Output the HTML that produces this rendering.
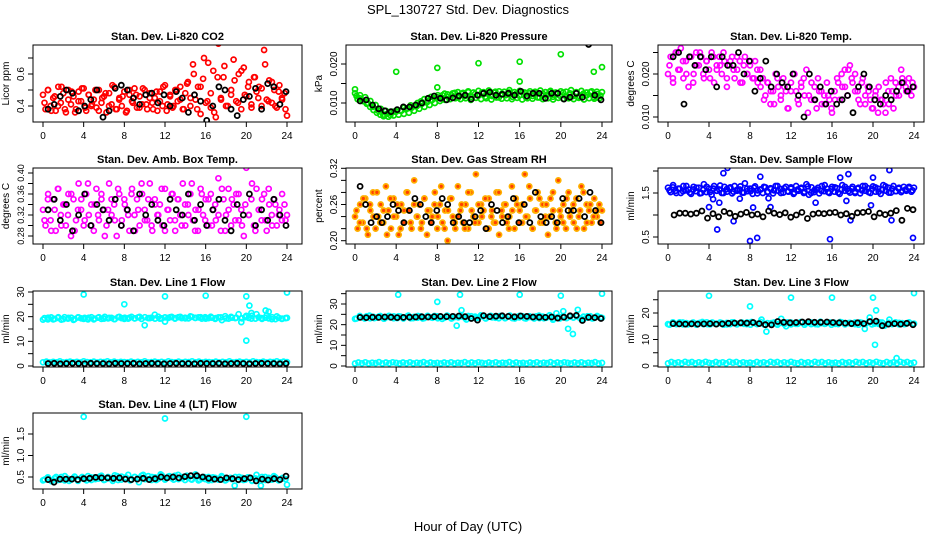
<!DOCTYPE html>
<html><head><meta charset="utf-8"><style>
html,body{margin:0;padding:0;background:#fff;}
svg{display:block;font-family:"Liberation Sans",Arial,sans-serif;}
</style></head><body>
<svg id="chart" width="936" height="540" viewBox="0 0 936 540">
<text x="468" y="14" text-anchor="middle" font-size="13">SPL_130727  Std. Dev. Diagnostics</text>
<text x="468" y="531" text-anchor="middle" font-size="13">Hour of Day (UTC)</text>
</svg>
<script>
// ---- data ----
const xTicks = [0,4,8,12,16,20,24];
const co2Red = [0.47,0.38,0.50,0.40,0.45,0.37,0.52,0.42,0.48,0.36,0.50,0.41,0.46,0.38,0.49,0.43,0.51,0.37,0.47,0.40,0.44,0.39,0.50,0.42,0.46,0.36,0.48,0.41,0.52,0.38,0.45,0.40,0.49,0.37,0.47,0.43,0.51,0.39,0.46,0.41,0.50,0.38,0.48,0.42,0.45,0.37,0.49,0.40,0.53,0.41,0.47,0.39,0.50,0.43,0.52,0.38,0.48,0.55,0.40,0.66,0.44,0.52,0.35,0.57,0.42,0.67,0.39,0.62,0.33,0.79,0.45,0.58,0.40,0.80,0.47,0.69,0.43,0.60,0.38,0.64,0.46,0.55,0.41,0.58,0.49,0.52,0.40,0.75,0.44,0.56,0.42,0.50,0.39,0.53,0.45,0.48,0.34];
const co2Red2 = [0.42,0.50,0.37,0.46,0.40,0.52,0.38,0.44,0.49,0.36,0.43,0.51,0.39,0.47,0.41,0.50,0.37,0.45,0.48,0.40,0.53,0.38,0.44,0.46,0.36,0.50,0.42,0.47,0.39,0.51,0.41,0.45,0.38,0.49,0.43,0.52,0.37,0.46,0.40,0.50,0.44,0.38,0.54,0.45,0.60,0.38,0.52,0.70,0.43,0.48,0.36,0.58,0.44,0.65,0.40,0.50,0.56,0.42,0.62,0.47,0.52,0.39,0.58,0.45,0.51,0.66,0.43,0.55,0.40,0.49,0.44,0.38];
const co2Black = [0.38,0.41,0.46,0.50,0.48,0.37,0.40,0.44,0.50,0.33,0.37,0.51,0.53,0.50,0.45,0.41,0.47,0.48,0.42,0.47,0.40,0.49,0.45,0.36,0.47,0.43,0.31,0.40,0.52,0.50,0.38,0.34,0.44,0.46,0.51,0.38,0.54,0.52,0.41,0.49];
const presGreen = [0.0125,0.0110,0.0120,0.0105,0.0115,0.0100,0.0105,0.0090,0.0095,0.0080,0.0085,0.0070,0.0080,0.0065,0.0075,0.0068,0.0078,0.0070,0.0080,0.0072,0.0085,0.0075,0.0088,0.0080,0.0092,0.0085,0.0098,0.0090,0.0102,0.0095,0.0108,0.0100,0.0115,0.0105,0.0120,0.0108,0.0122,0.0110,0.0125,0.0112,0.0128,0.0110,0.0126,0.0112,0.0130,0.0108,0.0127,0.0113,0.0131,0.0110,0.0128,0.0112,0.0132,0.0109,0.0127,0.0114,0.0130,0.0111,0.0129,0.0112,0.0133,0.0110,0.0128,0.0113,0.0131,0.0109,0.0127,0.0112,0.0130,0.0111,0.0129,0.0114,0.0132,0.0110,0.0128,0.0112,0.0131,0.0109,0.0127,0.0113,0.0130,0.0111,0.0129,0.0112,0.0133,0.0110,0.0128,0.0113,0.0131,0.0109,0.0127,0.0112,0.0130,0.0111,0.0129,0.0112,0.0128];
const presGreen2 = [0.0118,0.0112,0.0105,0.0098,0.0090,0.0082,0.0075,0.0070,0.0066,0.0072,0.0069,0.0078,0.0082,0.0080,0.0088,0.0086,0.0094,0.0092,0.0100,0.0104,0.0110,0.0106,0.0116,0.0112,0.0120,0.0114,0.0124,0.0116,0.0120,0.0126,0.0114,0.0124,0.0118,0.0128,0.0115,0.0123,0.0119,0.0127,0.0116,0.0125,0.0118,0.0129,0.0114,0.0124,0.0120,0.0127,0.0116,0.0123,0.0119,0.0128,0.0115,0.0125,0.0118,0.0126,0.0114,0.0124,0.0120,0.0129,0.0116,0.0123,0.0119,0.0127,0.0115,0.0125,0.0118,0.0126,0.0116,0.0124,0.0120,0.0128,0.0115,0.0123,0.0119];
const presOutH = [0,4,8,8,12,16,16,20,23.2,24];
const presOutV = [0.0135,0.0180,0.0190,0.0140,0.0202,0.0206,0.0155,0.0225,0.0180,0.0192];
const presBlack = [0.0105,0.0108,0.0095,0.0085,0.0080,0.0078,0.0083,0.0090,0.0090,0.0095,0.0100,0.0112,0.0118,0.0112,0.0108,0.0113,0.0118,0.0120,0.0110,0.0120,0.0125,0.0128,0.0120,0.0122,0.0125,0.0120,0.0130,0.0118,0.0125,0.0125,0.0112,0.0125,0.0125,0.0110,0.0115,0.0125,0.0115,0.0250,0.0120,0.0108];
const tempMag = [0.020,0.024,0.018,0.025,0.021,0.026,0.019,0.023,0.017,0.024,0.020,0.025,0.022,0.024,0.019,0.023,0.021,0.025,0.018,0.022,0.024,0.020,0.023,0.017,0.022,0.024,0.019,0.021,0.023,0.018,0.024,0.020,0.022,0.019,0.023,0.018,0.021,0.019,0.015,0.018,0.013,0.016,0.020,0.017,0.014,0.019,0.016,0.012,0.018,0.020,0.016,0.013,0.017,0.019,0.021,0.015,0.018,0.014,0.012,0.016,0.013,0.015,0.018,0.014,0.011,0.016,0.019,0.014,0.017,0.021,0.015,0.022,0.018,0.020,0.016,0.013,0.019,0.015,0.017,0.014,0.012,0.016,0.011,0.014,0.013,0.018,0.016,0.019,0.012,0.015,0.017,0.021,0.018,0.016,0.019,0.015,0.017];
const tempMag2 = [0.022,0.019,0.025,0.021,0.023,0.020,0.024,0.018,0.022,0.025,0.020,0.023,0.019,0.024,0.021,0.022,0.025,0.019,0.023,0.021,0.024,0.018,0.022,0.020,0.023,0.019,0.021,0.017,0.014,0.018,0.016,0.013,0.019,0.015,0.017,0.012,0.016,0.020,0.014,0.018,0.015,0.011,0.014,0.017,0.019,0.016,0.013,0.015,0.012,0.014,0.018,0.020,0.017,0.021,0.019,0.016,0.014,0.018,0.013,0.016,0.012,0.015,0.017,0.014,0.011,0.013,0.016,0.018,0.015,0.019,0.017,0.016,0.018];
const tempBlack = [0.024,0.025,0.013,0.024,0.022,0.024,0.021,0.024,0.017,0.024,0.022,0.022,0.025,0.020,0.023,0.016,0.019,0.023,0.017,0.020,0.018,0.017,0.020,0.015,0.010,0.020,0.014,0.017,0.013,0.016,0.013,0.014,0.015,0.011,0.017,0.020,0.017,0.014,0.013,0.015,0.014,0.016,0.018,0.016,0.017];
const ambMag = [0.33,0.30,0.36,0.31,0.35,0.29,0.37,0.32,0.34,0.30,0.36,0.28,0.35,0.31,0.38,0.33,0.30,0.36,0.32,0.34,0.29,0.37,0.31,0.35,0.33,0.30,0.38,0.32,0.34,0.28,0.36,0.31,0.35,0.33,0.29,0.37,0.32,0.35,0.30,0.36,0.33,0.31,0.38,0.29,0.35,0.32,0.34,0.30,0.37,0.33,0.31,0.36,0.29,0.35,0.32,0.38,0.30,0.34,0.36,0.31,0.33,0.29,0.37,0.32,0.35,0.30,0.36,0.33,0.31,0.39,0.29,0.35,0.32,0.37,0.30,0.34,0.36,0.31,0.33,0.28,0.41,0.32,0.35,0.30,0.37,0.33,0.31,0.36,0.29,0.34,0.32,0.35,0.30,0.33,0.31,0.34,0.32];
const ambMag2 = [0.31,0.35,0.29,0.33,0.37,0.30,0.34,0.32,0.36,0.29,0.33,0.35,0.31,0.38,0.30,0.34,0.32,0.36,0.28,0.33,0.35,0.31,0.37,0.30,0.34,0.32,0.36,0.29,0.33,0.38,0.31,0.35,0.30,0.34,0.32,0.37,0.29,0.33,0.36,0.31,0.35,0.30,0.34,0.32,0.38,0.29,0.33,0.36,0.31,0.35,0.30,0.34,0.32,0.37,0.29,0.33,0.35,0.31,0.36,0.30,0.34,0.32,0.38,0.29,0.33,0.35,0.31,0.37,0.30,0.34,0.32,0.36,0.31];
const ambBlack = [0.33,0.35,0.31,0.34,0.29,0.32,0.36,0.30,0.34,0.33,0.31,0.35,0.30,0.33,0.29,0.36,0.32,0.34,0.31,0.30,0.35,0.33,0.32,0.36,0.31,0.34,0.30,0.33,0.35,0.31,0.29,0.34,0.32,0.36,0.30,0.33,0.31,0.35,0.32,0.30];
const rhOrange = [0.24,0.22,0.26,0.23,0.27,0.21,0.25,0.28,0.22,0.24,0.26,0.23,0.29,0.25,0.22,0.27,0.24,0.21,0.26,0.23,0.28,0.25,0.22,0.30,0.24,0.26,0.23,0.27,0.21,0.25,0.24,0.28,0.22,0.26,0.23,0.25,0.20,0.27,0.24,0.22,0.29,0.25,0.23,0.26,0.22,0.28,0.24,0.31,0.23,0.26,0.25,0.22,0.27,0.24,0.23,0.28,0.21,0.25,0.26,0.23,0.24,0.29,0.22,0.26,0.25,0.23,0.31,0.24,0.27,0.22,0.25,0.28,0.23,0.26,0.24,0.21,0.27,0.25,0.23,0.30,0.24,0.26,0.22,0.28,0.25,0.23,0.27,0.24,0.29,0.22,0.26,0.25,0.23,0.27,0.24,0.26,0.25];
const rhOrange2 = [0.25,0.23,0.27,0.22,0.26,0.24,0.28,0.23,0.25,0.21,0.27,0.24,0.26,0.22,0.25,0.28,0.23,0.26,0.24,0.22,0.27,0.25,0.23,0.26,0.24,0.29,0.22,0.25,0.27,0.23,0.24,0.26,0.22,0.28,0.25,0.23,0.26,0.24,0.27,0.22,0.25,0.23,0.28,0.24,0.26,0.22,0.25,0.27,0.23,0.26,0.24,0.29,0.22,0.25,0.27,0.23,0.26,0.24,0.28,0.22,0.25,0.23,0.27,0.24,0.26,0.22,0.25,0.28,0.23,0.26,0.24,0.25,0.23];
const rhBlack = [0.29,0.26,0.23,0.24,0.23,0.24,0.26,0.25,0.23,0.25,0.27,0.26,0.24,0.23,0.25,0.27,0.26,0.23,0.24,0.23,0.23,0.24,0.25,0.22,0.26,0.25,0.23,0.24,0.27,0.23,0.26,0.23,0.28,0.24,0.23,0.24,0.23,0.27,0.25,0.25,0.27,0.24,0.28,0.25,0.23];
const flowBlue = [1.62,1.52,1.68,1.55,1.60,1.50,1.66,1.56,1.58,1.48,1.64,1.54,1.62,1.50,1.70,1.52,1.60,1.46,1.66,1.55,1.58,1.50,1.64,1.53,1.61,1.49,1.66,1.55,1.58,1.51,1.72,1.54,1.60,1.48,1.65,1.56,1.58,1.50,1.63,1.53,1.61,1.49,1.66,1.55,1.59,1.51,1.64,1.53,1.60,1.48,1.66,1.55,1.62,1.50,1.70,1.46,1.63,1.52,1.58,1.49,1.66,1.54,1.60,1.50,1.64,1.53,1.61,1.48,1.68,1.55,1.59,1.51,1.64,1.53,1.60,1.49,1.66,1.55,1.61,1.50,1.65,1.53,1.60,1.48,1.68,1.55,1.62,1.51,1.66,1.54,1.60,1.52,1.64,1.55,1.61,1.53,1.62];
const flowBlue2 = [1.56,1.63,1.50,1.60,1.54,1.66,1.51,1.58,1.62,1.49,1.57,1.64,1.52,1.60,1.55,1.67,1.50,1.59,1.63,1.53,1.57,1.65,1.51,1.60,1.54,1.62,1.49,1.58,1.64,1.52,1.59,1.56,1.66,1.50,1.61,1.54,1.63,1.51,1.58,1.60,1.53,1.65,1.50,1.57,1.62,1.55,1.68,1.52,1.59,1.63,1.51,1.58,1.64,1.54,1.60,1.50,1.62,1.56,1.66,1.52,1.59,1.63,1.53,1.57,1.65,1.51,1.60,1.54,1.62,1.55,1.58,1.64,1.56];
const flowOutH = [4,4.4,4.8,5,5.4,5.8,6.4,7,8,8.3,8.7,9,9.8,10,14.4,15.8,16.8,17.4,17.6,17.8,19.8,20,21.6,21.8,23.9];
const flowOutV = [1.18,1.36,0.67,1.28,1.95,2.07,0.86,1.37,0.41,1.17,0.48,1.87,1.38,1.18,1.28,0.45,1.85,1.32,1.93,0.88,1.22,1.85,2.02,0.88,0.48];
const flowBlack = [1.00,1.04,1.04,1.02,1.04,1.09,0.93,1.03,0.96,1.08,1.04,0.97,1.02,1.06,1.00,1.02,0.96,1.09,1.04,1.01,1.05,0.95,1.00,1.06,0.92,1.02,1.04,1.03,1.05,1.06,1.00,1.03,0.97,1.05,1.06,1.08,0.96,1.04,1.01,1.04,1.10,0.88,1.15,1.12];
const l1Cyan = [18.8,19.6,18.9,19.8,19.0,19.5,18.7,19.7,19.1,19.6,18.9,19.8,19.2,19.5,19.0,19.9,19.1,19.6,19.3,19.9,16.5,19.4,20.8,19.2,18.0,19.8,19.4,19.9,19.3,20.1,19.5,19.8,19.2,20.0,19.4,19.7,19.3,19.9,19.6,17.8,20.3,19.2,21.0,19.4,20.5,19.0,20.1,19.1,19.5];
const l1Cyan2 = [19.4,18.9,19.7,19.1,19.5,18.8,19.8,19.2,19.6,19.0,19.7,19.3,19.5,18.9,19.8,19.2,19.6,19.1,19.9,19.3,19.5,19.0,19.8,19.4,19.6,19.2,19.9,19.3,19.7,19.1,19.8,19.4,19.6,19.2,20.0,19.3,19.7,19.5,19.9,19.2,19.8,19.4,19.6,19.3,19.9,19.5,19.7,19.2,19.8,19.4,19.6,19.1,19.7,18.6,20.2,19.2,19.6,19.4,21.0,19.3,19.8,19.5,20.4,19.2,19.7,19.1,19.6,19.3,19.8,19.0,19.5,19.2,19.4];
const l1Out = [29,25,28.2,28.5,28.2,10.3,24.5,21.5,22.5,22,29.8];
const l1OutH = [4,8,12,16,20,20,20.3,20.5,21.9,22.2,24];
const l1Low = [1.5,1.8,1.4,1.7,1.5,1.9,1.4,1.6,1.8,1.5,1.7,1.4,1.9,1.6,1.5,1.8,1.4,1.7,1.6,1.9,1.5,1.8,1.4,1.7,1.6,1.5,1.8,1.4,1.7,1.5,1.9,1.4,1.6,1.8,1.5,1.7,1.4,1.9,1.6,1.5,1.8,1.4,1.7,1.6,1.9,1.5,1.8,1.4,1.7,1.6,1.5,1.8,1.4,1.7,1.5,1.9,1.4,1.6,1.8,1.5,1.7,1.4,1.9,1.6,1.5,1.8,1.4,1.7,1.6,1.9,1.5,1.8,1.6];
const l1Black = [1.0,1.1,0.9,1.0,1.1,1.0,0.9,1.1,1.0,1.0,0.9,1.1,1.0,1.0,1.1,0.9,1.0,1.1,1.0,0.9,1.0,1.1,1.0,1.0,0.9,1.1,1.0,1.0,1.1,0.9,1.0,1.1,1.0,0.9,1.0,1.1,1.0,1.0,0.9,1.0];
const l2Cyan = [22.8,24.2,23.0,24.4,23.2,24.0,22.9,24.3,23.1,24.1,23.0,24.4,23.2,24.2,23.0,24.3,23.3,24.0,22.8,24.4,23.1,19.5,27.0,22.5,24.1,23.2,24.5,23.0,24.3,23.3,24.2,23.1,24.4,23.0,24.3,23.2,24.1,23.0,24.4,23.1,24.2,22.9,23.8,26.5,18.0,15.5,27.2,22.8,24.1,23.0,24.2,23.3];
const l2Cyan2 = [23.0,23.9,23.3,24.1,23.1,23.8,23.4,24.2,23.0,23.7,23.5,24.0,23.2,23.9,23.4,24.1,23.1,23.8,23.3,24.0,23.2,23.9,23.5,24.2,23.1,23.8,23.4,24.1,23.0,23.7,23.5,24.0,23.3,24.2,23.1,23.9,23.4,24.1,23.2,23.8,23.5,24.0,23.1,23.9,23.3,24.2,23.2,23.8,23.5,24.1,23.0,23.7,23.4,24.0,23.2,23.9,23.3,24.6,22.4,25.5,23.0,24.1,23.2,23.8,23.4,24.0,23.1,23.9,23.3,24.1,23.2,23.8,23.5];
const l2OutH = [4.2,8,10.2,16,20,24];
const l2Out = [34.5,31,34.5,34.5,34,35];
const l2Low = [1.2,1.7,1.3,1.8,1.2,1.6,1.4,1.9,1.2,1.7,1.3,1.8,1.5,1.2,1.7,1.3,1.8,1.2,1.6,1.4,1.9,1.2,1.7,1.3,1.5,1.2,1.7,1.3,1.8,1.2,1.6,1.4,1.9,1.2,1.7,1.3,1.8,1.5,1.2,1.7,1.3,1.8,1.2,1.6,1.4,1.9,1.2,1.7,1.3,1.5,1.2,1.7,1.3,1.8,1.2,1.6,1.4,1.9,1.2,1.7,1.3,1.8,1.5,1.2,1.7,1.3,1.8,1.2,1.6,1.4,1.9,1.2,1.5];
const l2Black = [23.5,23.4,23.6,23.5,23.7,23.6,23.4,23.5,23.6,23.7,23.8,23.7,23.9,24.0,23.9,24.0,24.2,23.9,23.0,22.2,24.4,23.9,24.1,24.3,24.0,23.8,24.2,24.0,23.7,23.6,23.5,23.7,23.2,23.6,24.3,24.5,22.0,23.5,23.4,23.0];
const l3Cyan = [15.8,16.5,15.9,16.4,15.7,16.3,16.0,16.6,15.8,16.4,15.9,16.2,15.7,16.5,16.0,16.4,15.8,16.6,15.9,17.5,13.0,16.2,15.9,17.8,15.0,16.4,15.9,16.6,16.1,16.5,15.8,16.7,16.0,16.4,15.9,16.6,16.1,16.3,15.8,16.5,14.0,18.3,16.0,16.5,15.2,17.5,16.0,16.3,15.8,16.4,16.0];
const l3Cyan2 = [15.6,16.3,15.8,16.5,15.7,16.2,15.9,16.4,15.6,16.3,15.8,16.5,15.7,16.2,15.9,16.4,15.6,16.3,15.8,16.5,15.7,16.2,15.9,16.4,15.6,16.3,15.8,16.6,15.7,16.2,15.9,16.4,15.6,16.3,15.8,16.5,15.7,16.2,15.9,16.4,15.6,16.3,15.8,16.5,15.7,16.2,15.9,16.4,15.6,16.3,15.8,16.5,15.7,16.2,15.9,16.4,15.6,16.3,15.8,16.5,15.7,16.2,15.9,16.4,15.6,16.3,15.8,16.5,15.7,16.2,15.9,16.4,15.8];
const l3OutH = [4,8,12,16,20,20.2,20.3,22.3,24];
const l3Out = [26.5,22.5,25.8,25.8,25.8,8.0,21.0,3.0,27.5];
const l3Low = [1.0,1.5,1.1,1.4,1.0,1.6,1.2,1.5,1.0,1.4,1.1,1.6,1.2,1.0,1.5,1.1,1.4,1.0,1.6,1.2,1.5,1.0,1.4,1.1,1.3,1.0,1.5,1.1,1.4,1.0,1.6,1.2,1.5,1.0,1.4,1.1,1.6,1.2,1.0,1.5,1.1,1.4,1.0,1.6,1.2,1.5,1.0,1.4,1.1,1.3,1.0,1.5,1.1,1.4,1.0,1.6,1.2,1.5,1.0,1.4,1.1,1.6,1.2,1.0,1.5,1.1,1.4,1.0,1.6,1.2,1.5,1.0,1.3];
const l3Black = [16.0,15.9,15.8,15.9,15.8,15.9,16.0,15.8,15.9,16.1,16.2,16.3,16.2,16.4,16.0,15.6,15.5,16.8,16.5,16.3,16.4,16.6,16.7,16.5,16.5,16.6,16.4,16.3,16.2,16.0,16.3,16.0,16.8,16.9,15.2,15.8,16.0,15.8,16.1,15.6];
const l4Cyan = [0.42,0.48,0.40,0.50,0.44,0.52,0.41,0.47,0.43,0.50,0.42,0.49,0.45,0.51,0.43,0.47,0.41,0.52,0.44,0.49,0.42,0.50,0.38,0.55,0.45,0.50,0.43,0.56,0.46,0.52,0.44,0.55,0.47,0.53,0.45,0.56,0.44,0.50,0.42,0.49,0.45,0.52,0.43,0.48,0.30,0.50,0.43,0.49,0.42,0.55,0.30,0.50,0.44,0.52,0.43,0.48,0.32];
const l4Cyan2 = [0.44,0.49,0.41,0.47,0.43,0.50,0.42,0.46,0.44,0.51,0.41,0.48,0.45,0.52,0.43,0.49,0.46,0.53,0.44,0.50,0.45,0.54,0.43,0.51,0.46,0.55,0.44,0.50,0.47,0.53,0.45,0.52,0.43,0.49,0.46,0.54,0.44,0.51,0.47,0.53,0.45,0.50,0.43,0.48,0.44,0.51,0.42,0.47,0.45,0.50,0.43,0.48,0.44,0.49,0.42,0.47,0.45,0.50,0.43,0.48,0.44,0.49,0.41,0.47,0.45,0.50,0.43,0.48,0.44,0.49,0.42,0.47,0.45];
const l4OutH = [4,12,20];
const l4Out = [1.90,1.86,1.90];
const l4Black = [0.44,0.38,0.45,0.45,0.45,0.44,0.46,0.47,0.49,0.48,0.48,0.47,0.48,0.45,0.44,0.45,0.47,0.44,0.46,0.50,0.48,0.50,0.48,0.51,0.53,0.53,0.50,0.47,0.45,0.44,0.48,0.46,0.44,0.46,0.48,0.41,0.45,0.43,0.46,0.44,0.52];

// ---- layout ----
const svg = document.getElementById('chart');
const NS = 'http://www.w3.org/2000/svg';
const colBox = [[33,302,43,287],[346,612,355,602],[658,924,668,914]];
const rowBox = [[45,122],[168,244],[291,367],[413,489]];

function mk(tag, attrs, parent){
  const e = document.createElementNS(NS, tag);
  for (const k in attrs) e.setAttribute(k, attrs[k]);
  (parent||svg).appendChild(e);
  return e;
}

const S2 = [0.15,23.85];
const panels = [
 {c:0,r:0,name:'co2',title:'Stan. Dev. Li-820 CO2',ylab:'Licor ppm',ya:[0.4,106],yb:[0.6,74],ticks:[0.4,0.5,0.6,0.7],labs:['0.4','','0.6',''],
  series:[{v:co2Red,col:'#ff0000'},{v:co2Red2,col:'#ff0000',span:S2},{v:co2Black,col:'#000',span:[0.5,23.9]}]},
 {c:1,r:0,name:'pressure',title:'Stan. Dev. Li-820 Pressure',ylab:'kPa',ya:[0.010,103],yb:[0.020,64],ticks:[0.010,0.015,0.020],labs:['0.010','','0.020'],
  series:[{v:presGreen,col:'#00e000'},{v:presGreen2,col:'#00e000',span:S2},{v:presOutV,h:presOutH,col:'#00e000'},{v:presBlack,col:'#000',span:[0.5,23.9]}]},
 {c:2,r:0,name:'temp',title:'Stan. Dev. Li-820 Temp.',ylab:'degrees C',ya:[0.010,117],yb:[0.020,74],ticks:[0.010,0.015,0.020,0.025],labs:['0.010','','0.020',''],
  series:[{v:tempMag,col:'#ff00ff'},{v:tempMag2,col:'#ff00ff',span:S2},{v:tempBlack,col:'#000',span:[0.5,23.9]}]},
 {c:0,r:1,name:'ambbox',title:'Stan. Dev. Amb. Box Temp.',ylab:'degrees C',ya:[0.28,236],yb:[0.40,173],ticks:[0.28,0.30,0.32,0.34,0.36,0.38,0.40],labs:['0.28','','0.32','','0.36','','0.40'],fs:9,
  series:[{v:ambMag,col:'#ff00ff'},{v:ambMag2,col:'#ff00ff',span:S2},{v:ambBlack,col:'#000',span:[0.5,23.9]}]},
 {c:1,r:1,name:'rh',title:'Stan. Dev. Gas Stream RH',ylab:'percent',ya:[0.20,240.7],yb:[0.32,168.3],ticks:[0.20,0.22,0.24,0.26,0.28,0.30,0.32],labs:['0.20','','','0.26','','','0.32'],
  series:[{v:rhOrange,col:'#ffb000',fill:'#ff4000'},{v:rhOrange2,col:'#ffb000',fill:'#ff4000',span:S2},{v:rhBlack,col:'#000',span:[0.5,23.9]}]},
 {c:2,r:1,name:'sampleflow',title:'Stan. Dev. Sample Flow',ylab:'ml/min',ya:[0.5,237],yb:[1.5,193],ticks:[0.5,1.0,1.5,2.0],labs:['0.5','','1.5',''],
  series:[{v:flowBlue,col:'#0000ff'},{v:flowBlue2,col:'#0000ff',span:S2},{v:flowOutV,h:flowOutH,col:'#0000ff'},{v:flowBlack,col:'#000',span:[0.6,23.9]}]},
 {c:0,r:2,name:'line1',title:'Stan. Dev. Line 1 Flow',ylab:'ml/min',ya:[0,366],yb:[30,292],ticks:[0,5,10,15,20,25,30],labs:['0','','10','','20','','30'],
  series:[{v:l1Cyan,col:'#00ffff'},{v:l1Cyan2,col:'#00ffff',span:S2},{v:l1Out,h:l1OutH,col:'#00ffff'},{v:l1Low,col:'#00ffff'},{v:l1Black,col:'#000',span:[0.5,23.9]}]},
 {c:1,r:2,name:'line2',title:'Stan. Dev. Line 2 Flow',ylab:'ml/min',ya:[0,366],yb:[30,304],ticks:[0,5,10,15,20,25,30,35],labs:['0','','10','','20','','30',''],
  series:[{v:l2Cyan,col:'#00ffff'},{v:l2Cyan2,col:'#00ffff',span:S2},{v:l2Out,h:l2OutH,col:'#00ffff'},{v:l2Low,col:'#00ffff'},{v:l2Black,col:'#000',span:[0.5,23.9]}]},
 {c:2,r:2,name:'line3',title:'Stan. Dev. Line 3 Flow',ylab:'ml/min',ya:[0,366],yb:[20,313],ticks:[0,5,10,15,20,25],labs:['0','','10','','20',''],
  series:[{v:l3Cyan,col:'#00ffff'},{v:l3Cyan2,col:'#00ffff',span:S2},{v:l3Out,h:l3OutH,col:'#00ffff'},{v:l3Low,col:'#00ffff'},{v:l3Black,col:'#000',span:[0.5,23.9]}]},
 {c:0,r:3,name:'line4',title:'Stan. Dev. Line 4 (LT) Flow',ylab:'ml/min',ya:[0.5,477],yb:[1.5,434],ticks:[0.5,1.0,1.5],labs:['0.5','1.0','1.5'],
  series:[{v:l4Cyan,col:'#00ffff'},{v:l4Cyan2,col:'#00ffff',span:S2},{v:l4Out,h:l4OutH,col:'#00ffff'},{v:l4Black,col:'#000',span:[0.5,23.9]}]}
];

panels.forEach(p=>{
  const [bx0,bx1,tx0,tx24] = colBox[p.c];
  const [by0,by1] = rowBox[p.r];
  const xs = h => tx0 + (tx24-tx0)*h/24;
  const ys = v => p.ya[1] + (v-p.ya[0])*(p.yb[1]-p.ya[1])/(p.yb[0]-p.ya[0]);
  const g = mk('g',{});
  
  
  const t = mk('text',{x:(bx0+bx1)/2,y:by0-5,'text-anchor':'middle','font-size':'11','font-weight':'bold'},g);
  t.textContent = p.title;
  
  
  const cp = mk('clipPath',{id:'clip-'+p.name},g);
  mk('rect',{x:bx0,y:by0,width:bx1-bx0,height:by1-by0},cp);
  const pts = mk('g',{'clip-path':'url(#clip-'+p.name+')'},g);
  
  
  p.series.forEach(s=>{
    const n = s.v.length;
    const span = s.span || [0,24];
    s.v.forEach((v,i)=>{
      const h = s.h ? s.h[i] : span[0] + (span[1]-span[0])*i/(n-1);
      const c = mk('circle',{cx:xs(h).toFixed(1),cy:ys(v).toFixed(1),r:2.5,fill:s.fill||'none',stroke:s.col,'stroke-width':s.col==='#000'?1.8:1.7},pts);
      
      
    });
  });
  const box = mk('rect',{x:bx0,y:by0,width:bx1-bx0,height:by1-by0,fill:'none',stroke:'#000','stroke-width':1},g);
  
  
  const xa = mk('g',{},g);
  
  
  xTicks.forEach(h=>{
    const x = xs(h);
    mk('line',{x1:x,x2:x,y1:by1,y2:by1+5,stroke:'#000'},xa);
    const tl = mk('text',{x:x,y:by1+17,'text-anchor':'middle','font-size':'10'},xa);
    tl.textContent = h;
  });
  const ya = mk('g',{},g);
  
  
  p.ticks.forEach((v,i)=>{
    const y = ys(v);
    mk('line',{x1:bx0-5,x2:bx0,y1:y,y2:y,stroke:'#000'},ya);
    if (p.labs[i]) {
      const tl = mk('text',{x:bx0-9,y:y,'text-anchor':'middle','font-size':p.fs||10,transform:'rotate(-90 '+(bx0-9)+' '+y+')'},ya);
      tl.textContent = p.labs[i];
    }
  });
  const yl = mk('text',{x:bx0-24,y:(by0+by1)/2,'text-anchor':'middle','font-size':'10',transform:'rotate(-90 '+(bx0-24)+' '+((by0+by1)/2)+')'},g);
  yl.textContent = p.ylab;
  
  
});
</script>
</body></html>
